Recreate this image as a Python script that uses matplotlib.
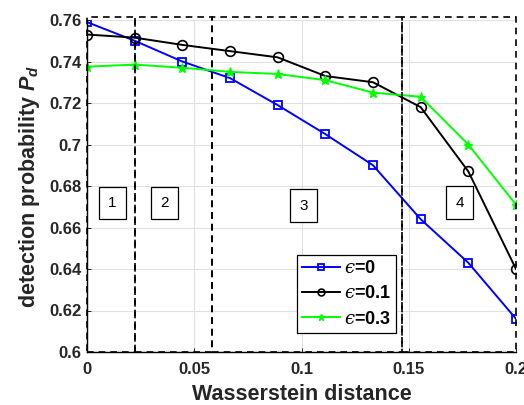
import numpy as np
import matplotlib
matplotlib.use("Agg")
import matplotlib.pyplot as plt
from matplotlib.patches import Rectangle

plt.rcParams['font.family'] = ['Liberation Sans', 'DejaVu Sans']
plt.rcParams['mathtext.fontset'] = 'custom'
plt.rcParams['mathtext.rm'] = 'Liberation Sans:bold'
plt.rcParams['mathtext.it'] = 'Liberation Sans:italic:bold'
plt.rcParams['mathtext.bf'] = 'Liberation Sans:bold'
plt.rcParams['mathtext.sf'] = 'DejaVu Serif:italic'

# Data
x = np.linspace(0, 0.2, 10)
eps0 = [0.759, 0.750, 0.740, 0.732, 0.719, 0.705, 0.690, 0.664, 0.643, 0.616]
eps01 = [0.753, 0.7515, 0.748, 0.745, 0.742, 0.733, 0.730, 0.718, 0.687, 0.640]
eps03 = [0.7375, 0.7385, 0.737, 0.735, 0.734, 0.731, 0.725, 0.723, 0.700, 0.671]
labels = [r'$\mathsf{ϵ}$=0', r'$\mathsf{ϵ}$=0.1', r'$\mathsf{ϵ}$=0.3']
regions = [(0.0, 0.0222), (0.0222, 0.0583), (0.0583, 0.1469), (0.1469, 0.2)]
region_labels = ['1', '2', '3', '4']
region_label_pos = [(0.0119, 0.6718), (0.0361, 0.6718), (0.1009, 0.6706), (0.1737, 0.672)]
xticks = [0, 0.05, 0.1, 0.15, 0.2]
xticklabels = ['0', '0.05', '0.1', '0.15', '0.2']
yticks = [0.6, 0.62, 0.64, 0.66, 0.68, 0.7, 0.72, 0.74, 0.76]
yticklabels = ['0.6', '0.62', '0.64', '0.66', '0.68', '0.7', '0.72', '0.74', '0.76']

fig = plt.figure(figsize=(5.24, 4.05), dpi=100)
ax = fig.add_axes([87/524, 1-352/405, (516-87)/524, (352-20)/405])

ax.plot(x, eps0, '-s', color='#0000ff', mfc='none', mec='#0000ff', ms=5.5, mew=1.3, lw=1.4, label=labels[0])
ax.plot(x, eps01, '-o', color='black', mfc='none', ms=7, mew=1.2, lw=1.4, label=labels[1])
ax.plot(x, eps03, '-*', color='#00ff00', ms=6.5, lw=1.4, label=labels[2])

ax.set_xlim(0, 0.2)
ax.set_ylim(0.6, 0.76)
ax.set_xticks(xticks)
ax.set_xticklabels(xticklabels)
ax.set_yticks(yticks)
ax.set_yticklabels(yticklabels)
for t in ax.get_xticklabels() + ax.get_yticklabels():
    t.set_fontweight('bold')
    t.set_fontsize(12)
    t.set_color('#262626')
ax.tick_params(axis='x', direction='in', length=3, width=0.6, pad=7)
ax.tick_params(axis='y', direction='in', length=3, width=0.6, pad=4)
ax.grid(True, color='#e0e0e0', lw=0.8)
ax.set_axisbelow(True)
for s in ['top', 'right']:
    ax.spines[s].set_visible(False)
for s in ['left', 'bottom']:
    ax.spines[s].set_linewidth(1.0)

for (a, b) in regions:
    r = Rectangle((a, 0.6), b - a, 0.7615 - 0.6, fill=False, ls=(0, (4, 3)),
                  lw=1.2, ec='black', clip_on=False, zorder=4)
    ax.add_patch(r)

for lab, (px, py) in zip(region_labels, region_label_pos):
    ax.text(px, py, lab, ha='center', va='center', fontsize=11,
            bbox=dict(boxstyle='square,pad=0.6', fc='white', ec='black', lw=0.9), zorder=3)

ax.set_xlabel('Wasserstein distance', fontsize=15.5, fontweight='bold', color='#262626', labelpad=5)
ax.set_ylabel(r'detection probability $P_d$', fontsize=15.5, fontweight='bold', color='#262626', labelpad=5)

leg = ax.legend(loc='lower left', bbox_to_anchor=((297-87)/429, (352-333)/332),
                prop={'weight': 'bold', 'size': 13}, frameon=True, fancybox=False,
                edgecolor='black', framealpha=1, handlelength=2.1, borderpad=0.3,
                labelspacing=0.45, handletextpad=0.2, markerscale=0.7, borderaxespad=0)
leg.get_frame().set_linewidth(0.9)
leg.set_zorder(10)

fig.savefig('out.png', dpi=100)
